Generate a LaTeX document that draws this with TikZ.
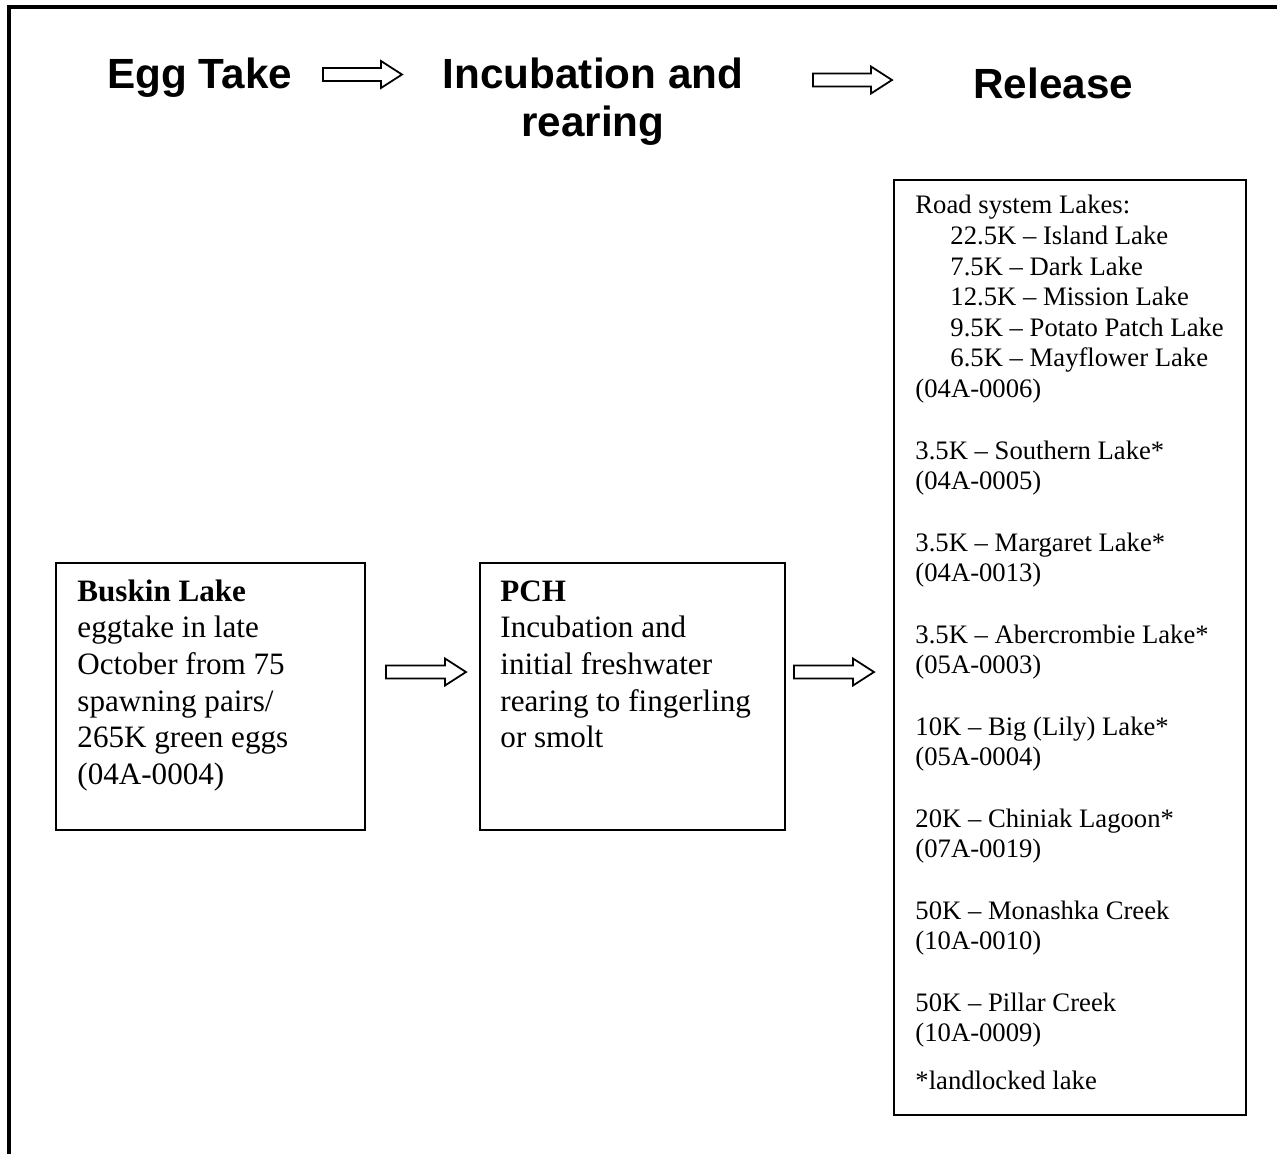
\documentclass[tikz,border=0pt]{standalone}
\usepackage{fontspec}
\setmainfont{Liberation Serif}
\newfontfamily\headfont{Liberation Sans}
\usetikzlibrary{calc}
\newcommand\blockarr[2]{\draw[barrow] ($(#1)+(0,-6.5)$) -- ($(#2)+(-21,-6.5)$) -- ($(#2)+(-21,-13.5)$) -- (#2) -- ($(#2)+(-21,13.5)$) -- ($(#2)+(-21,6.5)$) -- ($(#1)+(0,6.5)$) -- cycle;}
\begin{document}
\begin{tikzpicture}[x=0.45pt,y=-0.45pt,
  frame/.style={line width=1.4pt},
  box/.style={draw, line width=0.9pt, anchor=north west, inner sep=0pt},
  barrow/.style={draw, line width=0.8pt, fill=white, line join=miter},
  head/.style={font=\headfont\bfseries\fontsize{19}{21}\selectfont, inner sep=0pt},
  body/.style={font=\fontsize{14}{16.5}\selectfont, inner sep=0pt, anchor=base west},
  rel/.style={font=\fontsize{12}{13.8}\selectfont, inner sep=0pt, anchor=base west}]
\useasboundingbox (0,0) rectangle (1277,1154);
\draw[frame] (1277,7) -- (9,7) -- (9,1154);

% headings
\node[head, anchor=base west] (egg) at (107,88) {Egg Take};
\node[head, anchor=base] (inc1) at (593,88) {Incubation and};
\node[head, anchor=base] (inc2) at (593,136) {rearing};
\node[head, anchor=base west] (rls) at (973,98) {Release};

% boxes
\node[box, minimum width=139.05pt, minimum height=120.15pt] (buskin) at (55,562) {};
\node[box, minimum width=137.25pt, minimum height=120.15pt] (pch) at (479,562) {};
\node[box, minimum width=158.4pt, minimum height=420.75pt] (release) at (893,179) {};

% left box text
\node[body] (b1) at (77,601) {\textbf{Buskin Lake}};
\node[body] (b2) at (77,637) {eggtake in late};
\node[body] (b3) at (77,674) {October from 75};
\node[body] (b4) at (77,711) {spawning pairs/};
\node[body] (b5) at (77,747) {265K green eggs};
\node[body] (b6) at (77,784) {(04A-0004)};

% middle box text
\node[body] (p1) at (500,601) {\textbf{PCH}};
\node[body] (p2) at (500,637) {Incubation and};
\node[body] (p3) at (500,674) {initial freshwater};
\node[body] (p4) at (500,711) {rearing to fingerling};
\node[body] (p5) at (500,747) {or smolt};

% right box text
\foreach \xx/\yy/\txt [count=\i] in {
  915/213/Road system Lakes:,
  950/244/22.5K – Island Lake,
  950/275/7.5K – Dark Lake,
  950/305/12.5K – Mission Lake,
  950/336/9.5K – Potato Patch Lake,
  950/366/6.5K – Mayflower Lake,
  915/397/(04A-0006),
  915/459/3.5K – Southern Lake*,
  915/489/(04A-0005),
  915/551/3.5K – Margaret Lake*,
  915/581/(04A-0013),
  915/643/3.5K – Abercrombie Lake*,
  915/673/(05A-0003),
  915/735/10K – Big (Lily) Lake*,
  915/765/(05A-0004),
  915/827/20K – Chiniak Lagoon*,
  915/857/(07A-0019),
  915/919/50K – Monashka Creek,
  915/949/(10A-0010),
  915/1011/50K – Pillar Creek,
  915/1041/(10A-0009),
  915/1089/*landlocked lake}
  \node[rel] (r\i) at (\xx,\yy) {\txt};

% block arrows
\coordinate (a1s) at (323,74.5); \coordinate (a1e) at (402,74.5);
\coordinate (a2s) at (813,80);   \coordinate (a2e) at (892,80);
\coordinate (a3s) at (386,672);  \coordinate (a3e) at (466,672);
\coordinate (a4s) at (794,672);  \coordinate (a4e) at (874,672);
\blockarr{a1s}{a1e}
\blockarr{a2s}{a2e}
\blockarr{a3s}{a3e}
\blockarr{a4s}{a4e}
\end{tikzpicture}
\end{document}
